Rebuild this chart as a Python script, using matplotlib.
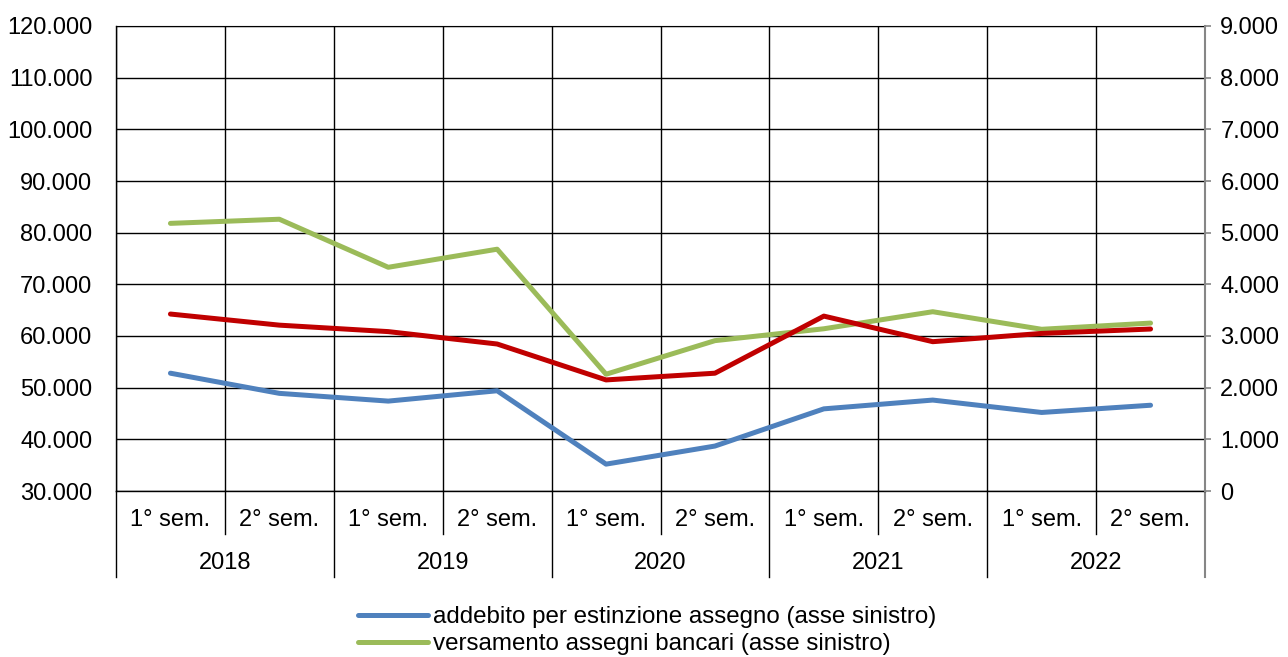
import matplotlib.pyplot as plt
from matplotlib.ticker import FuncFormatter, MultipleLocator

plt.rcParams['font.family'] = ['Liberation Sans', 'DejaVu Sans']

# dati
anni = ['2018', '2019', '2020', '2021', '2022']
semestri = ['1° sem.', '2° sem.'] * 5
addebito = [52800, 48900, 47400, 49400, 35200, 38700, 45900, 47600, 45200, 46600]
versamento = [81800, 82600, 73300, 76800, 52600, 59100, 61400, 64700, 61300, 62500]
asse_destro = [3425, 3210, 3085, 2845, 2150, 2280, 3385, 2890, 3050, 3135]

fmt = FuncFormatter(lambda v, p: f'{v:,.0f}'.replace(',', '.'))
fs = 17

fig = plt.figure(figsize=(12.88, 6.57), dpi=100)
ax = fig.add_axes([116 / 1288, 166 / 657, 1089 / 1288, 465 / 657])
ax2 = ax.twinx()

x = [i + 0.5 for i in range(len(semestri))]
l1, = ax.plot(x, addebito, color='#4F81BD', lw=3.6, solid_capstyle='round', zorder=3)
l2, = ax.plot(x, versamento, color='#9BBB59', lw=3.6, solid_capstyle='round', zorder=3)
ax2.plot(x, asse_destro, color='#C00000', lw=3.6, solid_capstyle='round', zorder=3)

ax.set_xlim(0, len(semestri))
ax.set_ylim(30000, 120000)
ax2.set_ylim(0, 9000)
ax.yaxis.set_major_locator(MultipleLocator(10000))
ax2.yaxis.set_major_locator(MultipleLocator(1000))
ax.yaxis.set_major_formatter(fmt)
ax2.yaxis.set_major_formatter(fmt)

# griglia
ax.set_xticks(range(len(semestri) + 1), minor=True)
ax.grid(True, which='minor', axis='x', color='black', lw=1)
ax.grid(True, which='major', axis='y', color='black', lw=1)
ax.set_axisbelow(True)

ax.set_xticks(x)
ax.set_xticklabels(semestri, fontsize=fs)
ax.tick_params(axis='x', which='both', length=0, pad=13)
ax.tick_params(axis='y', length=0, pad=17, labelsize=fs)
ax2.tick_params(axis='y', length=4, width=1.2, color='#868686', pad=7, labelsize=fs)

for s in ['left', 'top', 'bottom']:
    ax2.spines[s].set_visible(False)
ax.spines['right'].set_visible(False)
ax2.spines['right'].set_color('#868686')
ax2.spines['right'].set_linewidth(1.5)
ax.spines['left'].set_linewidth(1)
ax.spines['bottom'].set_linewidth(1)

# separatori asse categorie a due livelli
tr = ax.get_xaxis_transform()
for i in range(len(semestri) + 1):
    basso = -0.185 if i % 2 == 0 else -0.093
    col = '#868686' if i == len(semestri) else 'black'
    ax.plot([i, i], [0, basso], transform=tr, color=col, lw=1 if i < len(semestri) else 1.5,
            clip_on=False)
for j, anno in enumerate(anni):
    ax.text(2 * j + 1, -0.155, anno, transform=tr, ha='center', va='center', fontsize=fs)

fig.legend([l1, l2],
           ['addebito per estinzione assegno (asse sinistro)',
            'versamento assegni bancari (asse sinistro)'],
           loc='upper left', bbox_to_anchor=(358 / 1288, 1 - 606 / 657),
           frameon=False, fontsize=17.4, handlelength=2.9, handletextpad=0.2,
           borderpad=0, borderaxespad=0, labelspacing=0.22)

fig.savefig('out.png', dpi=100)
